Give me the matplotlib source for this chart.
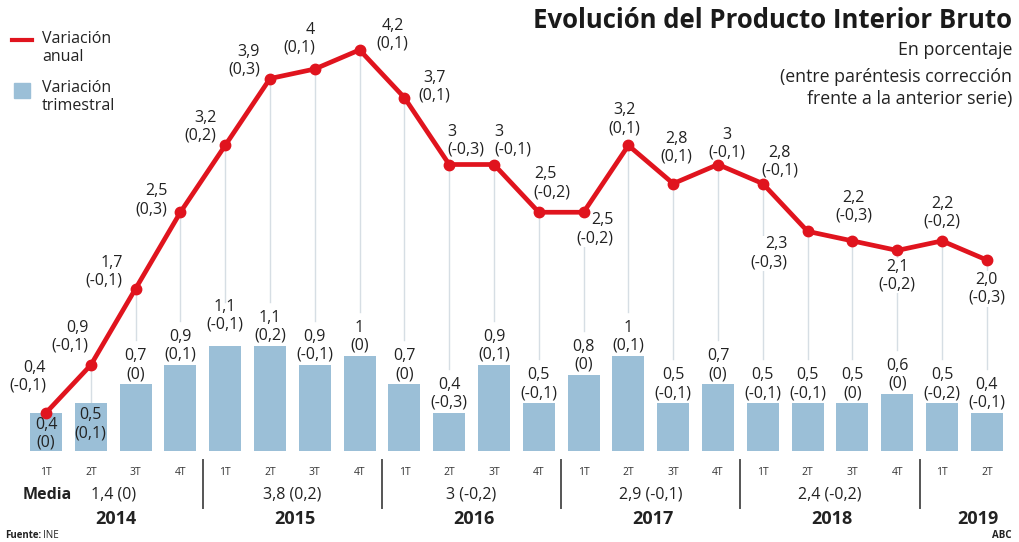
import matplotlib.pyplot as plt
import numpy as np

plt.rcParams['font.family'] = ['Open Sans', 'DejaVu Sans']

# Datos (INE), con la corrección frente a la serie anterior
quarters = ['1T', '2T', '3T', '4T'] * 5 + ['1T', '2T']
years = ['2014', '2015', '2016', '2017', '2018', '2019']
quarters_per_year = [4, 4, 4, 4, 4, 2]
media = ['1,4 (0)', '3,8 (0,2)', '3 (-0,2)', '2,9 (-0,1)', '2,4 (-0,2)', '']

anual = ['0,4', '0,9', '1,7', '2,5', '3,2', '3,9', '4', '4,2', '3,7', '3', '3', '2,5',
         '2,5', '3,2', '2,8', '3', '2,8', '2,3', '2,2', '2,1', '2,2', '2,0']
anual_corr = ['-0,1', '-0,1', '-0,1', '0,3', '0,2', '0,3', '0,1', '0,1', '0,1', '-0,3', '-0,1', '-0,2',
              '-0,2', '0,1', '0,1', '-0,1', '-0,1', '-0,3', '-0,3', '-0,2', '-0,2', '-0,3']
trimestral = ['0,4', '0,5', '0,7', '0,9', '1,1', '1,1', '0,9', '1', '0,7', '0,4', '0,9', '0,5',
              '0,8', '1', '0,5', '0,7', '0,5', '0,5', '0,5', '0,6', '0,5', '0,4']
trim_corr = ['0', '0,1', '0', '0,1', '-0,1', '0,2', '-0,1', '0', '0', '-0,3', '0,1', '-0,1',
             '0', '0,1', '-0,1', '0', '-0,1', '-0,1', '0', '0', '-0,2', '-0,1']


def num(s):
    return float(s.replace(',', '.'))


anual_v = np.array([num(s) for s in anual])
trim_v = np.array([num(s) for s in trimestral])
x = np.arange(len(anual))

# label placement for the annual series: offset in pixels (dx, dy down) and alignment
anual_pos = [(0, -36, 'right'), (-2, -28, 'right'), (-13, -17, 'right'), (-13, -12, 'right'),
             (-9, -19, 'right'), (-10, -18, 'right'), (0, -30, 'right'), (33, -15, 'center'),
             (30, -11, 'center'), (-2, -24, 'left'), (0, -24, 'left'), (-5, -29, 'left'),
             (30, 17, 'right'), (-4, -26, 'center'), (3, -36, 'center'), (9, -21, 'center'),
             (17, -22, 'center'), (-20, 22, 'right'), (1, -34, 'center'), (0, 25, 'center'),
             (0, -28, 'center'), (0, 29, 'center')]
inside = [0, 1]
raised = {4: 30}

RED = '#e0141e'
BLUE = '#9bbfd7'
GUIDE = '#d6dee4'
INK = '#222222'
W, H = 1019, 542

fig = plt.figure(figsize=(W / 100, H / 100), dpi=100)
ax = fig.add_axes((0, 0, 1, 1))
ax.set_xlim(-46 / 44.8, (W - 46) / 44.8)
ax.set_ylim(-(H - 451) / 95.5, 451 / 95.5)
ax.axis('off')


def fxy(px, py):
    return px / W, 1 - py / H


# guide lines from the quarterly label up to the annual point
for i in x:
    low = trim_v[i] if i in inside else trim_v[i] + 0.46
    if anual_v[i] > low:
        ax.plot([i, i], [low, anual_v[i]], color=GUIDE, lw=1, zorder=1)

ax.bar(x, trim_v, width=0.71, color=BLUE, zorder=2)
ax.plot(x, anual_v, color=RED, lw=3.4, marker='o', ms=7.5, zorder=4,
        solid_joinstyle='round')

for i in x:
    txt = f'{trimestral[i]}\n({trim_corr[i]})'
    off = -21 if i in inside else raised.get(i, 19)
    ax.annotate(txt, (i, trim_v[i]), xytext=(0, off), textcoords='offset pixels',
                ha='center', va='center', fontsize=11.5, color=INK, zorder=5,
                linespacing=1.15)

# labels under the line get a white patch so the guide line stops at them
for i in x:
    dx, dy, ha = anual_pos[i]
    below = dy > 0
    box = dict(facecolor='white', edgecolor='none', pad=0.5) if below else None
    ax.annotate(f'{anual[i]}\n({anual_corr[i]})', (i, anual_v[i]), xytext=(dx, -dy),
                textcoords='offset pixels', ha=ha, va='center', multialignment=ha,
                fontsize=11.5, color=INK, zorder=3 if below else 6, linespacing=1.15,
                bbox=box)

# quarter ticks, yearly means and separators
for i in x:
    ax.text(i, -0.22, quarters[i], ha='center', va='center', fontsize=7.5, color='#333333')

start = 0
for k, (yr, n) in enumerate(zip(years, quarters_per_year)):
    mid = start + (n - 1) / 2
    ax.text(mid, -0.46, media[k], ha='center', va='center', fontsize=11.5, color=INK)
    shift = 0.3 if n < 4 else 0.05
    ax.text(mid + shift, -0.715, yr, ha='center', va='center', fontsize=13,
            fontweight='bold', color=INK)
    if k > 0:
        ax.plot([start - 0.5, start - 0.5], [-0.095, -0.60], color='#555555', lw=1.4)
    start += n

ax.text(-0.52, -0.46, 'Media', ha='left', va='center', fontsize=11.5,
        fontweight='bold', color=INK)

# titles
fig.text(*fxy(1012, 20), 'Evolución del Producto Interior Bruto', ha='right', va='center',
         fontsize=18.5, fontweight='bold', color='#1a1a1a')
fig.text(*fxy(1012, 50), 'En porcentaje', ha='right', va='center', fontsize=12.8, color=INK)
fig.text(*fxy(1012, 88), '(entre paréntesis corrección\nfrente a la anterior serie)',
         ha='right', va='center', multialignment='right', fontsize=12.8, color=INK,
         linespacing=1.32)

# legend
fig.lines.append(plt.Line2D([12 / W, 32 / W], [1 - 40 / H, 1 - 40 / H], color=RED, lw=3,
                            transform=fig.transFigure))
fig.patches.append(plt.Rectangle(fxy(14, 98), 16 / W, 15 / H, color=BLUE,
                                 transform=fig.transFigure))
fig.text(*fxy(42, 48), 'Variación\nanual', ha='left', va='center', fontsize=11.5,
         color=INK, linespacing=1.15)
fig.text(*fxy(42, 97), 'Variación\ntrimestral', ha='left', va='center', fontsize=11.5,
         color=INK, linespacing=1.15)

# footer
fig.text(*fxy(5, 536), 'Fuente:', ha='left', va='center', fontsize=7, fontweight='bold',
         color=INK)
fig.text(*fxy(43, 536), 'INE', ha='left', va='center', fontsize=7, color=INK)
fig.text(*fxy(1012, 535), 'ABC', ha='right', va='center', fontsize=7, fontweight='bold',
         color=INK)

fig.savefig('out.png', dpi=100)
